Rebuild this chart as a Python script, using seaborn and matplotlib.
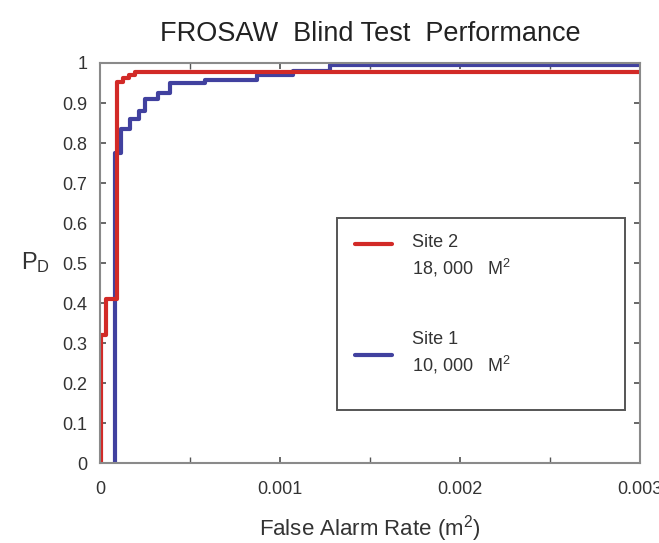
import matplotlib
matplotlib.use("Agg")
import matplotlib.pyplot as plt
import seaborn as sns
import pandas as pd
from matplotlib.ticker import MultipleLocator, FixedLocator
from matplotlib.legend_handler import HandlerLine2D
from matplotlib.patches import Rectangle

# Site 1 (blue) step curve: false alarm rate (per m^2) and P_D
site1_far = [0.0000833, 0.0000833, 0.000117, 0.000167, 0.000217, 0.00025, 0.000322,
             0.000389, 0.000583, 0.000872, 0.00107, 0.00128, 0.003]
site1_pd = [0.0, 0.775, 0.835, 0.86, 0.88, 0.91, 0.925, 0.95, 0.958, 0.97, 0.98, 0.995, 0.995]

# Site 2 (red) step curve
site2_far = [0.000003, 0.000003, 0.0000333, 0.0000944, 0.000128, 0.000161, 0.000194, 0.003]
site2_pd = [0.0, 0.32, 0.41, 0.952, 0.962, 0.97, 0.977, 0.977]

series_names = ["Site 1", "Site 2"]
legend_labels = {"Site 2": "Site 2\n18, 000   M$^2$", "Site 1": "Site 1\n10, 000   M$^2$"}
x_ticks = [0, 0.001, 0.002, 0.003]
x_tick_labels = ["0", "0.001", "0.002", "0.003"]
y_ticks = [0, 0.1, 0.2, 0.3, 0.4, 0.5, 0.6, 0.7, 0.8, 0.9, 1.0]
y_tick_labels = ["0", "0.1", "0.2", "0.3", "0.4", "0.5", "0.6", "0.7", "0.8", "0.9", "1"]

df = pd.concat([
    pd.DataFrame({"far": site1_far, "pd": site1_pd, "site": "Site 1"}),
    pd.DataFrame({"far": site2_far, "pd": site2_pd, "site": "Site 2"}),
], ignore_index=True)

sns.set_theme(style="ticks")
plt.rcParams["font.family"] = ["Liberation Sans", "DejaVu Sans"]
plt.rcParams["mathtext.fontset"] = "custom"
plt.rcParams["mathtext.rm"] = "Liberation Sans"
plt.rcParams["mathtext.it"] = "Liberation Sans"

fig = plt.figure(figsize=(6.59, 5.43), dpi=100)
ax = fig.add_axes([0.1517, 0.147, 0.8194, 0.737])

palette = {"Site 1": "#41419f", "Site 2": "#d22a27"}
sns.lineplot(data=df, x="far", y="pd", hue="site", hue_order=series_names,
             palette=palette, estimator=None, sort=False, drawstyle="steps-post",
             linewidth=3.0, legend=False, ax=ax)

ax.set_xlim(0, 0.003)
ax.set_ylim(0, 1)
ax.xaxis.set_major_locator(FixedLocator(x_ticks))
ax.set_xticklabels(x_tick_labels)
ax.xaxis.set_minor_locator(MultipleLocator(0.0005))
ax.yaxis.set_major_locator(FixedLocator(y_ticks))
ax.set_yticklabels(y_tick_labels)
ax.tick_params(axis="both", which="both", direction="in", top=True, right=True,
               colors="#555555", labelcolor="#333333", labelsize=13, length=4)
ax.tick_params(axis="x", pad=13)
ax.tick_params(axis="y", pad=9)
for s in ax.spines.values():
    s.set_color("#8a8a8a")
    s.set_linewidth(1.5)

ax.set_title("FROSAW  Blind Test  Performance", fontsize=19.5, color="#222222", pad=16)
ax.set_xlabel("False Alarm Rate (m$^2$)", fontsize=16, color="#333333", labelpad=11)
ax.set_ylabel("P$_\\mathrm{D}$", fontsize=17, color="#333333", rotation=0)
ax.yaxis.set_label_coords(-0.12, 0.47)


class ShiftedLine(HandlerLine2D):
    def __init__(self, shift, **kw):
        super().__init__(**kw)
        self.shift = shift

    def create_artists(self, legend, orig_handle, xdescent, ydescent, width,
                       height, fontsize, trans):
        arts = super().create_artists(legend, orig_handle, xdescent, ydescent,
                                      width, height, fontsize, trans)
        for a in arts:
            yd = a.get_ydata()
            a.set_ydata([y + self.shift * fontsize for y in yd])
        return arts


handles = [ax.lines[1], ax.lines[0]]
leg = ax.legend(handles, [legend_labels["Site 2"], legend_labels["Site 1"]],
                loc="upper left", bbox_to_anchor=(0.472, 0.573),
                fontsize=13, frameon=False, borderpad=0, labelspacing=2.85,
                handlelength=2.05, handletextpad=1.1, borderaxespad=0,
                handler_map={handles[0]: ShiftedLine(0.7), handles[1]: ShiftedLine(-0.1)})
for t in leg.get_texts():
    t.set_linespacing(1.35)
    t.set_color("#333333")

ax.add_patch(Rectangle((0.439, 0.1325), 0.533, 0.48, transform=ax.transAxes,
                       fill=False, edgecolor="#555555", linewidth=1.4, zorder=3))

fig.savefig("out.png", dpi=100)
